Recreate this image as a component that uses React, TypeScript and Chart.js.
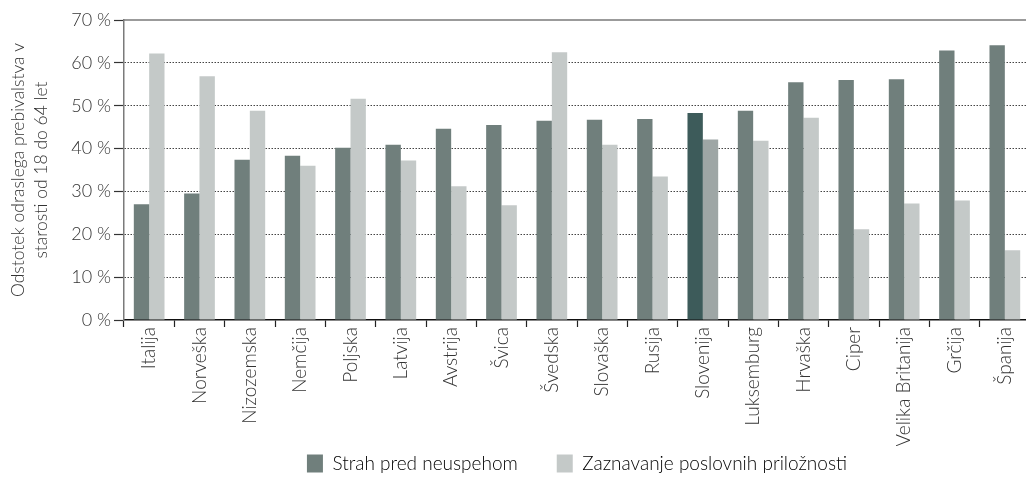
import React, { useEffect, useRef } from "react";
import { Chart, registerables } from "chart.js";

Chart.register(...registerables);

const categories = [
  "Italija", "Norveška", "Nizozemska", "Nemčija", "Poljska", "Latvija",
  "Avstrija", "Švica", "Švedska", "Slovaška", "Rusija", "Slovenija",
  "Luksemburg", "Hrvaška", "Ciper", "Velika Britanija", "Grčija", "Španija",
];
const fearOfFailure = [
  27.0, 29.5, 37.4, 38.3, 40.2, 40.9, 44.6, 45.5, 46.5, 46.7, 46.9, 48.3,
  48.8, 55.5, 56.0, 56.2, 62.9, 64.1,
];
const opportunities = [
  62.2, 56.9, 48.8, 36.0, 51.6, 37.2, 31.2, 26.8, 62.5, 40.9, 33.5, 42.1,
  41.8, 47.2, 21.2, 27.2, 27.9, 16.3,
];
const seriesNames = ["Strah pred neuspehom", "Zaznavanje poslovnih priložnosti"];
const yTickValues = [0, 10, 20, 30, 40, 50, 60, 70];
const yTitle = ["Odstotek odraslega prebivalstva v", "starosti od 18 do 64 let"];
const highlighted = "Slovenija";

const DARK = "#707f7c";
const LIGHT = "#c4c9c8";
const DARK_HL = "#3d5b5a";
const LIGHT_HL = "#9ea6a5";
const TEXT = "#333333";
const FONT = "Lato";

const framePlugin = {
  id: "framePlugin",
  afterLayout(chart: any) {
    const lg = chart.legend;
    const ca = chart.chartArea;
    if (lg && ca) {
      lg.left = ca.left;
      lg.right = ca.right;
      lg.width = ca.right - ca.left;
    }
  },
  afterDraw(chart: any) {
    const { ctx, chartArea } = chart;
    ctx.save();
    ctx.strokeStyle = "#7a7a7a";
    ctx.lineWidth = 1.5;
    ctx.beginPath();
    ctx.moveTo(chartArea.left, chartArea.top);
    ctx.lineTo(chartArea.right, chartArea.top);
    ctx.stroke();
    ctx.restore();
  },
};

export default function App() {
  const ref = useRef<HTMLCanvasElement | null>(null);

  useEffect(() => {
    document.documentElement.style.overflow = "hidden";
    document.body.style.overflow = "hidden";
    document.body.style.margin = "0";
    if (!ref.current) return;
    const chart = new Chart(ref.current, {
      type: "bar",
      data: {
        labels: categories,
        datasets: [
          {
            label: seriesNames[0],
            data: fearOfFailure,
            backgroundColor: categories.map((c) => (c === highlighted ? DARK_HL : DARK)),
            borderWidth: 0,
          },
          {
            label: seriesNames[1],
            data: opportunities,
            backgroundColor: categories.map((c) => (c === highlighted ? LIGHT_HL : LIGHT)),
            borderWidth: 0,
          },
        ],
      },
      options: {
        animation: false,
        responsive: false,
        maintainAspectRatio: false,
        layout: { padding: { top: 20, right: 0, left: 0, bottom: -6 } },
        datasets: {
          bar: { categoryPercentage: 0.61, barPercentage: 1 },
        },
        plugins: {
          tooltip: { enabled: false },
          legend: {
            position: "bottom",
            labels: {
              color: TEXT,
              font: { family: FONT, size: 19, weight: "300" },
              boxWidth: 16,
              boxHeight: 18,
              padding: 8,
              generateLabels: () => [
                { text: seriesNames[0] + "\u00a0".repeat(6), fillStyle: DARK, strokeStyle: DARK, lineWidth: 0, hidden: false, datasetIndex: 0 },
                { text: seriesNames[1], fillStyle: LIGHT, strokeStyle: LIGHT, lineWidth: 0, hidden: false, datasetIndex: 1 },
              ] as any,
            },
          },
        },
        scales: {
          x: {
            offset: true,
            afterFit: (scale: any) => {
              scale.height = 126;
            },
            grid: {
              offset: true,
              drawOnChartArea: false,
              drawTicks: true,
              tickLength: 7,
              tickColor: "#222",
              tickWidth: 1.2,
            },
            border: { display: true, color: "#111", width: 1.5 },
            ticks: {
              color: TEXT,
              font: { family: FONT, size: 19, weight: "300" },
              minRotation: 90,
              maxRotation: 90,
              autoSkip: false,
              padding: 0,
            },
          },
          y: {
            min: 0,
            max: 70,
            afterFit: (scale: any) => {
              scale.width = 124;
            },
            afterBuildTicks: (axis: any) => {
              axis.ticks = yTickValues.map((v) => ({ value: v }));
            },
            grid: {
              color: (ctx: any) =>
                ctx.tick && (ctx.tick.value === 0 || ctx.tick.value === 70) ? "rgba(0,0,0,0)" : "#444",
              lineWidth: 1,
              drawTicks: true,
              tickLength: 10,
              tickColor: "#333",
              tickBorderDash: [],
              tickWidth: 1.2,
            },
            border: { display: true, color: "#7a7a7a", width: 1.5, dash: [1.5, 1.5] },
            ticks: {
              color: TEXT,
              font: { family: FONT, size: 18, weight: "300" },
              padding: 3,
              callback: (v: any) => `${v} %`,
            },
            title: {
              display: true,
              text: yTitle,
              color: TEXT,
              font: { family: FONT, size: 17.5, weight: "300", lineHeight: 1.3 },
              padding: { top: 7, bottom: 6 },
            },
          },
        },
      },
      plugins: [framePlugin],
    });
    return () => chart.destroy();
  }, []);

  return (
    <div style={{ position: "absolute", left: 0, top: 0, width: 1030, height: 477 }}>
      <canvas ref={ref} width={1030} height={477} style={{ display: "block" }} />
    </div>
  );
}
